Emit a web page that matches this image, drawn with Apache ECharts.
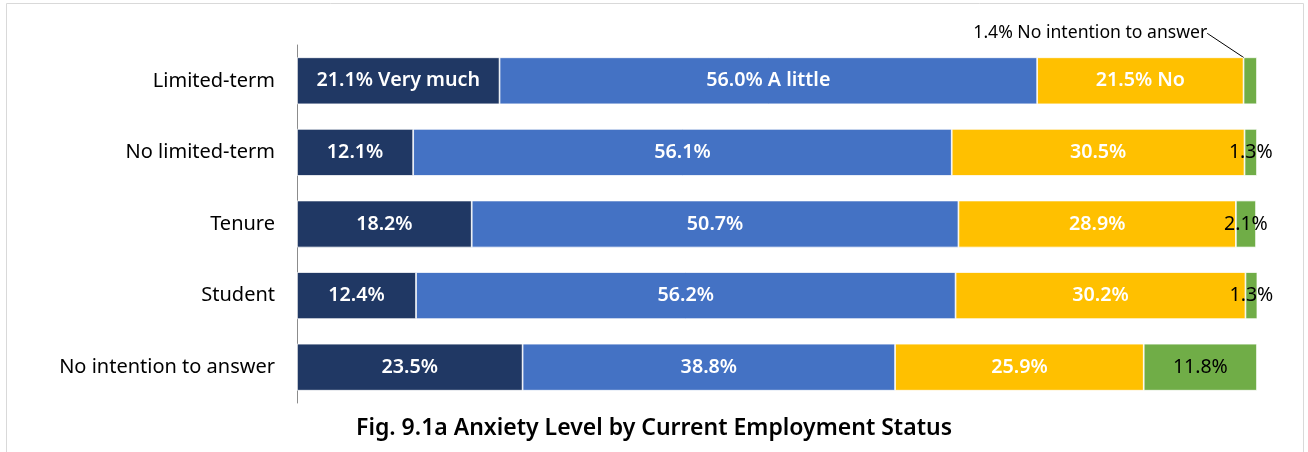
<!DOCTYPE html>
<html>
<head>
<meta charset="utf-8">
<script src="https://cdn.jsdelivr.net/npm/echarts@6/dist/echarts.min.js"></script>
<style>
  html, body { margin: 0; padding: 0; background: #fff; }
  #chart { width: 1308px; height: 452px; }
</style>
</head>
<body>
<div id="chart"></div>
<script>
const categories = ['Limited-term', 'No limited-term', 'Tenure', 'Student', 'No intention to answer']
const seriesNames = ['Very much', 'A little', 'No', 'No intention to answer']
const veryMuch = [21.1, 12.1, 18.2, 12.4, 23.5]
const aLittle = [56.0, 56.1, 50.7, 56.2, 38.8]
const no = [21.5, 30.5, 28.9, 30.2, 25.9]
const noAnswer = [1.4, 1.3, 2.1, 1.3, 11.8]
const colors = ['#203864', '#4472C4', '#FFC000', '#70AD47']
const titleText = 'Fig. 9.1a Anxiety Level by Current Employment Status'

const font = '"Noto Sans", "Open Sans", sans-serif'
const chart = echarts.init(document.getElementById('chart'))

// first row shows the series name next to the value
const labelText = (name) => (p) =>
  p.dataIndex === 0 ? p.value.toFixed(1) + '% ' + name : p.value.toFixed(1) + '%'

const makeSeries = (name, data, i) => ({
  name,
  type: 'bar',
  stack: 'total',
  barWidth: 47,
  data,
  itemStyle: { color: colors[i], borderColor: '#fff', borderWidth: 0.75 },
  label: {
    show: true,
    position: 'inside',
    color: '#fff',
    fontFamily: font,
    fontSize: 19.7,
    fontWeight: 600,
    formatter: labelText(name)
  }
})

const series = [
  makeSeries(seriesNames[0], veryMuch, 0),
  makeSeries(seriesNames[1], aLittle, 1),
  makeSeries(seriesNames[2], no, 2),
  {
    name: seriesNames[3],
    type: 'bar',
    stack: 'total',
    barWidth: 47,
    itemStyle: { color: colors[3], borderColor: '#fff', borderWidth: 0.75 },
    label: {
      show: true,
      position: 'inside',
      color: '#000',
      fontFamily: font,
      fontSize: 19.5,
      fontWeight: 'normal',
      formatter: (p) => p.value.toFixed(1) + '%'
    },
    data: noAnswer.map((v, i) => i === 0 ? {
      value: v,
      label: {
        position: 'top',
        distance: 4,
        fontSize: 17.6,
        formatter: (p) => p.value.toFixed(1) + '% ' + seriesNames[3]
      },
      labelLine: { show: true, lineStyle: { color: '#000', width: 1 } }
    } : v),
    labelLayout: (p) => p.dataIndex === 0 ? { dx: -160, dy: -11 } : {}
  }
]

chart.setOption({
  animation: false,
  graphic: [{
    type: 'rect',
    shape: { x: 6.5, y: 3.5, width: 1297, height: 470 },
    style: { fill: 'none', stroke: '#d9d9d9', lineWidth: 1 },
    silent: true
  }],
  title: {
    text: titleText,
    left: 'center',
    top: 412,
    textStyle: { fontFamily: font, fontSize: 23, fontWeight: 600, color: '#000' }
  },
  grid: { left: 297, right: 51, top: 45, bottom: 49 },
  xAxis: {
    type: 'value',
    min: 0,
    max: 100,
    show: false
  },
  yAxis: {
    type: 'category',
    inverse: true,
    data: categories,
    axisLine: { show: true, lineStyle: { color: '#8c8c8c' } },
    axisTick: { show: false },
    axisLabel: { color: '#000', fontFamily: font, fontSize: 20, margin: 22 }
  },
  series
})
</script>
</body>
</html>
